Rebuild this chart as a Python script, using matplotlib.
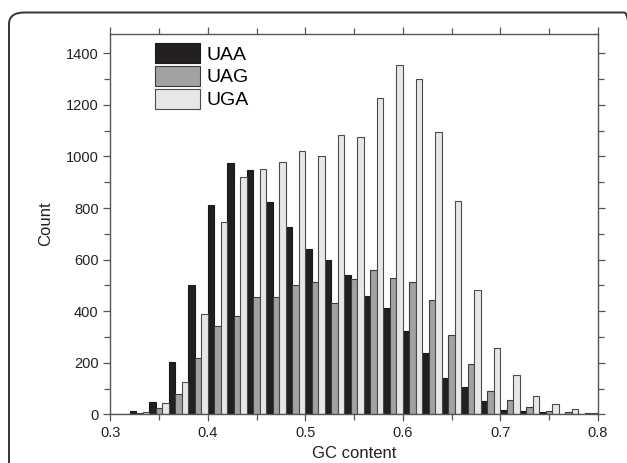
import numpy as np
import matplotlib
matplotlib.use("Agg")
import matplotlib.pyplot as plt
from matplotlib.patches import FancyBboxPatch, Patch

plt.rcParams['font.family'] = ['Liberation Sans', 'DejaVu Sans']

# left edge of each GC-content bin (width 0.02)
bins = [0.30, 0.32, 0.34, 0.36, 0.38, 0.40, 0.42, 0.44, 0.46, 0.48,
        0.50, 0.52, 0.54, 0.56, 0.58, 0.60, 0.62, 0.64, 0.66, 0.68,
        0.70, 0.72, 0.74, 0.76, 0.78]

uaa = [2, 13, 48, 203, 502, 813, 975, 949, 822, 726, 643, 597, 539,
       459, 414, 322, 238, 142, 105, 52, 18, 13, 8, 1, 3]
uag = [0, 4, 23, 80, 220, 343, 380, 455, 456, 500, 512, 433, 526,
       560, 528, 513, 443, 307, 195, 89, 54, 27, 14, 8, 5]
uga = [0, 8, 45, 125, 388, 747, 920, 952, 979, 1020, 1002, 1084, 1076,
       1226, 1354, 1302, 1094, 827, 482, 256, 151, 71, 40, 19, 4]

labels = ['UAA', 'UAG', 'UGA']
colors = ['#231f20', '#a2a2a4', '#e7e7e9']
edges = ['#1a1a1a', '#3c3c3c', '#4a4a4a']

W, H = 627, 463
fig = plt.figure(figsize=(W / 100, H / 100), dpi=100)
ax = fig.add_axes([110.4 / W, 1 - 414.3 / H, (598 - 110.4) / W, (414.3 - 34) / H])

x = np.array(bins)
w = 0.02 / 3
for i, counts in enumerate([uaa, uag, uga]):
    ax.bar(x + i * w, counts, width=w, align='edge', color=colors[i],
           edgecolor=edges[i], linewidth=0.8, zorder=2)

ax.set_xlim(0.3, 0.8)
ax.set_ylim(0, 1475)
ax.set_xticks(np.arange(0.3, 0.81, 0.1))
ax.set_xticks(np.arange(0.35, 0.8, 0.1), minor=True)
ax.set_xticklabels(['0.3', '0.4', '0.5', '0.6', '0.7', '0.8'])
ax.set_yticks(np.arange(0, 1401, 200))
ax.set_yticks(np.arange(100, 1401, 200), minor=True)

ax.tick_params(which='both', direction='out', top=True, right=True,
               color='#555555', width=0.9, labelsize=10.5, labelcolor='#222222')
ax.tick_params(which='major', length=5)
ax.tick_params(which='minor', length=4)
for s in ax.spines.values():
    s.set_color('#555555')
    s.set_linewidth(1.0)

ax.set_xlabel('GC content', fontsize=12, color='#222222', labelpad=4)
ax.set_ylabel('Count', fontsize=12, color='#222222', labelpad=9)

handles = [Patch(facecolor=colors[i], edgecolor=edges[i], linewidth=0.8)
           for i in range(3)]
fig.legend(handles, labels, loc='upper left',
           bbox_to_anchor=(155 / W, 1 - 43 / H), bbox_transform=fig.transFigure,
           frameon=False, fontsize=14, borderpad=0, borderaxespad=0,
           handlelength=2.3, handleheight=1.2, labelspacing=0.12,
           handletextpad=0.35)

# rounded panel border
frame = FancyBboxPatch((9 / W, -0.1), (640 - 9) / W, 0.1 + 1 - 12.5 / H,
                       boxstyle='round,pad=0,rounding_size=0.025',
                       transform=fig.transFigure, fill=False,
                       edgecolor='#333333', linewidth=1.4, clip_on=False)
fig.patches.append(frame)

fig.savefig('out.png', dpi=100)
